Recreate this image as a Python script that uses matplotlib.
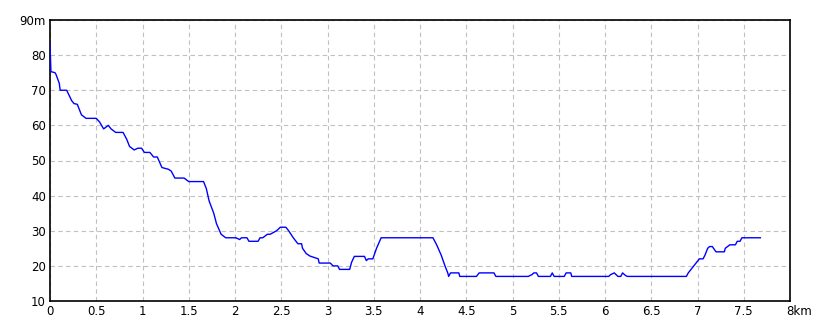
import matplotlib
matplotlib.use('Agg')
import matplotlib.pyplot as plt
import matplotlib.transforms as mtrans

# elevation profile (distance in km, height in m)
dist = [0.0, 0.005, 0.01, 0.054, 0.065, 0.1, 0.11, 0.18, 0.216, 0.235, 0.26, 0.295,
        0.34, 0.39, 0.5, 0.535, 0.58, 0.63, 0.66, 0.71, 0.79, 0.83, 0.86, 0.91,
        0.95, 0.99, 1.02, 1.08, 1.12, 1.16, 1.21, 1.28, 1.31, 1.35, 1.45, 1.5,
        1.66, 1.69, 1.72, 1.77, 1.8, 1.85, 1.9, 2.01, 2.05, 2.07, 2.13, 2.15,
        2.25, 2.27, 2.3, 2.35, 2.38, 2.45, 2.49, 2.55, 2.58, 2.63, 2.66, 2.68,
        2.72, 2.73, 2.77, 2.81, 2.9, 2.91, 3.03, 3.06, 3.11, 3.13, 3.24, 3.26,
        3.29, 3.4, 3.42, 3.44, 3.49, 3.53, 3.58, 4.14, 4.18, 4.23, 4.27, 4.3,
        4.31, 4.33, 4.42, 4.43, 4.61, 4.64, 4.8, 4.82, 5.17, 5.21, 5.23, 5.26,
        5.28, 5.41, 5.43, 5.45, 5.56, 5.58, 5.63, 5.64, 6.04, 6.06, 6.1, 6.14,
        6.17, 6.19, 6.22, 6.24, 6.88, 6.9, 6.93, 6.96, 6.99, 7.02, 7.06, 7.08,
        7.11, 7.13, 7.16, 7.2, 7.29, 7.3, 7.35, 7.41, 7.43, 7.46, 7.48, 7.68]
elev = [83, 79, 75.3, 75, 74.5, 72, 70, 70, 68, 67, 66.2, 66,
        63, 62, 62, 61, 59, 60, 59, 58, 58, 56, 54, 53,
        53.5, 53.5, 52.3, 52.3, 51, 51, 48, 47.5, 47, 45, 45, 44,
        44, 42, 38.5, 35, 32, 29, 28, 28, 27.5, 28, 28, 27,
        27, 28, 28, 29, 29, 30, 31, 31, 30, 28, 27, 26.3,
        26.3, 25, 23.5, 22.8, 22, 20.8, 20.8, 20, 20, 19, 19, 21,
        22.7, 22.7, 21.5, 22, 22, 25, 28, 28, 26, 23, 20, 18,
        17, 18, 18, 17, 17, 18, 18, 17, 17, 17.5, 18, 18,
        17, 17, 18, 17, 17, 18, 18, 17, 17, 17.5, 18, 17,
        17, 18, 17.3, 17, 17, 18, 19, 20, 21, 22, 22, 23,
        25, 25.5, 25.5, 24, 24, 25, 26, 26, 27, 27, 28, 28]

xticks = [0, 0.5, 1, 1.5, 2, 2.5, 3, 3.5, 4, 4.5, 5, 5.5, 6, 6.5, 7, 7.5, 8]
xlabels = ['0', '0.5', '1', '1.5', '2', '2.5', '3', '3.5', '4', '4.5', '5',
           '5.5', '6', '6.5', '7', '7.5', '8km']
yticks = [10, 20, 30, 40, 50, 60, 70, 80, 90]
ylabels = ['10', '20', '30', '40', '50', '60', '70', '80', '90m']

fig = plt.figure(figsize=(8.3, 3.32), dpi=100)
ax = fig.add_axes([50/830, 1 - 301/332, 740/830, 281/332])

ax.plot(dist, elev, color='#0000ff', linewidth=1.0, antialiased=True, zorder=3)

ax.set_xlim(0, 8)
ax.set_ylim(10, 90)
ax.set_xticks(xticks)
ax.set_xticklabels(xlabels)
ax.set_yticks(yticks)
ax.set_yticklabels(ylabels)
ax.tick_params(length=0, labelsize=8.5, pad=3, colors='black')

# the "8km" label starts at the tick, like the original
last = ax.get_xticklabels()[-1]
last.set_horizontalalignment('left')
last.set_transform(last.get_transform() + mtrans.ScaledTranslation(-4/100, 0, fig.dpi_scale_trans))

ax.grid(True, color='#c0c0c0', linestyle=(0, (4, 3)), linewidth=0.8)
for s in ax.spines.values():
    s.set_color('black')
    s.set_linewidth(1.2)

fig.savefig('out.png', dpi=100)
